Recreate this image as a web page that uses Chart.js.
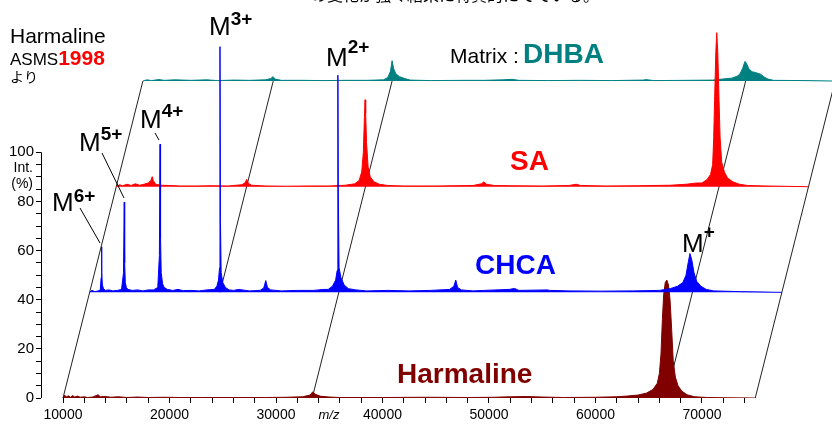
<!DOCTYPE html>
<html>
<head>
<meta charset="utf-8">
<script src="https://cdn.jsdelivr.net/npm/chart.js@4/dist/chart.umd.min.js"></script>
<style>
  body { margin: 0; background: #fff; }
  #wrap { width: 832px; height: 424px; }
</style>
</head>
<body>
<div id="wrap"><canvas id="spectraChart" width="832" height="424"></canvas></div>
<script>
// スペクトルデータ (m/z, 相対強度 %)
const harmalineMz = [10000, 10150, 10300, 10500, 10700, 10900, 11100, 11400, 11600, 12000, 12300, 12800, 13300, 13500, 14000, 14500, 15200, 16000, 17000, 18000, 19500, 21000, 23000, 26000, 29000, 31000, 32500, 33200, 33450, 33700, 34200, 35000, 36000, 40000, 44000, 48000, 50500, 52000, 53500, 55000, 57000, 60000, 62000, 63000, 64000, 64800, 65400, 65800, 66000, 66150, 66280, 66400, 66550, 66700, 66850, 67000, 67150, 67300, 67500, 67750, 68100, 68600, 69300, 70500, 72000, 75000];
const harmalineInt = [0, 1.2, 0.4, 0.9, 0.3, 1.0, 0.4, 0.8, 0.3, 0.5, 0.2, 0.4, 1.3, 0.5, 0.6, 0.3, 0.5, 0.2, 0.4, 0.2, 0.3, 0.2, 0.2, 0.2, 0.2, 0.3, 0.5, 1.2, 2.5, 1.5, 0.7, 0.4, 0.2, 0.2, 0.3, 0.2, 0.3, 0.5, 0.6, 0.4, 0.2, 0.3, 0.5, 0.8, 1.2, 2, 3.5, 6, 10, 18, 32, 42, 47, 48, 46, 40, 28, 15, 8.5, 5, 2.8, 1.3, 0.5, 0.2, 0.1, 0];

const chcaMz = [10000, 10200, 10500, 10800, 11000, 11080, 11120, 11150, 11200, 11300, 11500, 11800, 12200, 12600, 13000, 13180, 13250, 13290, 13350, 13450, 13600, 14000, 14500, 15000, 15500, 16000, 16400, 16550, 16610, 16660, 16720, 16850, 17000, 17300, 17800, 18300, 18800, 19500, 20300, 21000, 21700, 21950, 22100, 22200, 22240, 22280, 22350, 22500, 22750, 23100, 23500, 24000, 25000, 26000, 26350, 26540, 26700, 27000, 28000, 29500, 31000, 32000, 32400, 32800, 33100, 33250, 33300, 33320, 33350, 33420, 33600, 33900, 34300, 35000, 36000, 38000, 40000, 42000, 43800, 44200, 44380, 44550, 44900, 46000, 47000, 49400, 49900, 50300, 53000, 53200, 55000, 58000, 61000, 63500, 64500, 65200, 65700, 66000, 66200, 66370, 66550, 66750, 67000, 67400, 67900, 68600, 71000, 75000];
const chcaInt = [0, 0.8, 0.3, 0.6, 1.0, 6, 18.6, 8, 3, 1.5, 0.8, 1.0, 0.6, 0.8, 1.2, 8, 36.7, 12, 4, 2, 1.2, 0.8, 1.0, 0.6, 1.0, 1.0, 2, 15, 60.3, 22, 8, 3.5, 2, 1.2, 0.8, 1.2, 0.7, 0.8, 0.6, 1, 1.2, 2.5, 5, 10, 100, 30, 8, 4, 2, 1, 0.8, 1.2, 0.6, 0.8, 1.8, 4.8, 2, 1, 0.6, 0.8, 0.8, 1.2, 1.2, 2.5, 5, 9, 30, 88.4, 40, 10, 6, 3, 1.5, 1, 0.6, 0.8, 0.6, 0.8, 1.2, 2.5, 5, 2, 1, 0.6, 0.8, 1.2, 1.6, 0.8, 1, 0.8, 0.6, 0.5, 0.6, 0.8, 1.5, 2.5, 4, 7, 12, 15.8, 13, 8, 4.5, 2.5, 1.2, 0.6, 0.3, 0];

const saMz = [10000, 10300, 10600, 11000, 11400, 11800, 12200, 12600, 13000, 13250, 13380, 13480, 13700, 14200, 15000, 16000, 17500, 19000, 20500, 21800, 22100, 22250, 22400, 22700, 24000, 26000, 28000, 30000, 31500, 32400, 32800, 33050, 33200, 33300, 33360, 33420, 33500, 33650, 33850, 34200, 34700, 35500, 37000, 40000, 43500, 44300, 44530, 44750, 45500, 47000, 50000, 52500, 53200, 53600, 56000, 59000, 62000, 63500, 64500, 65000, 65500, 65800, 66000, 66100, 66180, 66300, 66385, 66480, 66600, 66700, 66850, 67100, 67400, 67900, 68500, 69300, 71000, 75000];
const saInt = [0, 0.8, 0.4, 1.0, 0.5, 1.2, 0.6, 1.0, 1.5, 2.5, 4.1, 2.5, 1.0, 0.6, 0.5, 0.3, 0.3, 0.4, 0.3, 0.8, 1.6, 3, 1.4, 0.6, 0.3, 0.2, 0.3, 0.3, 0.6, 1.2, 2.5, 6, 14, 28, 35.4, 30, 18, 8, 4, 2, 1, 0.5, 0.3, 0.3, 0.5, 1.2, 2, 1, 0.5, 0.4, 0.3, 0.5, 1, 0.5, 0.3, 0.4, 0.6, 1, 1.5, 1.5, 3, 5, 9, 20, 35, 55, 62.7, 55, 35, 20, 10, 6, 3.5, 2, 1, 0.5, 0.3, 0];

const dhbaMz = [10000, 10400, 10800, 11500, 12000, 13000, 14500, 16000, 17000, 18500, 20000, 21500, 22000, 22230, 22400, 23000, 25000, 27000, 29000, 31000, 32600, 33000, 33250, 33400, 33550, 33750, 34100, 34600, 35100, 37000, 40000, 42000, 43800, 44650, 45300, 48000, 51000, 54000, 57000, 57200, 58000, 61000, 63500, 64400, 65300, 65800, 66050, 66300, 66450, 66540, 66700, 66900, 67200, 67500, 68000, 68400, 68700, 69200, 72000, 75000];
const dhbaInt = [0, 0.5, 0.2, 0.6, 0.3, 0.5, 0.3, 0.5, 0.2, 0.4, 0.3, 0.5, 1, 1.8, 0.8, 0.3, 0.3, 0.2, 0.3, 0.3, 0.5, 1.5, 4, 8.3, 5, 3, 1.8, 1, 0.4, 0.2, 0.3, 0.3, 0.5, 0.7, 0.3, 0.2, 0.3, 0.2, 0.4, 0.6, 0.2, 0.3, 0.4, 0.8, 1.2, 2, 2.8, 5, 7, 8, 7, 5, 3.8, 3.5, 2.8, 1.5, 0.8, 0.3, 0.2, 0];

// 奥行き方向の線 (m/z)
const depthLineMz = [10000, 33400, 66600, 75000];
const m3LineMz = 22240;

// 目盛り
const xMajorTicks = [10000, 20000, 30000, 40000, 50000, 60000, 70000];
const yMajorTicks = [0, 20, 40, 60, 80, 100];

// 奥行きのずらし量 (1段あたり)
const DEPTH_MZ = 2500;
const DEPTH_INT = 43;

const FONT = "'Liberation Sans', Arial, sans-serif";

function shifted(mz, inten, level) {
    return mz.map((m, i) => ({ x: m + level * DEPTH_MZ, y: inten[i] + level * DEPTH_INT }));
}

function spectrum(label, mz, inten, level, color, order) {
    return {
        label: label,
        data: shifted(mz, inten, level),
        borderColor: color,
        backgroundColor: color,
        borderWidth: 1,
        pointRadius: 0,
        tension: 0,
        fill: { value: level * DEPTH_INT },
        order: order
    };
}

function depthLine(mz, fromLevel, toLevel) {
    return {
        data: [
            { x: mz + fromLevel * DEPTH_MZ, y: fromLevel * DEPTH_INT },
            { x: mz + toLevel * DEPTH_MZ, y: toLevel * DEPTH_INT }
        ],
        borderColor: '#222',
        borderWidth: 1,
        pointRadius: 0,
        fill: false,
        order: 10
    };
}

const xMinorTicks = [];
for (let v = 10000; v <= 74000; v += 2000) xMinorTicks.push(v);
const yMinorTicks = [];
for (let v = 0; v <= 100; v += 5) yMinorTicks.push(v);

// 文字・注釈
const labelPlugin = {
    id: 'labels',
    afterDraw(chart) {
        const ctx = chart.ctx;
        const y = chart.scales.y;
        ctx.save();
        // 縦軸の線 (0〜100)
        ctx.strokeStyle = '#000';
        ctx.lineWidth = 1;
        ctx.beginPath();
        ctx.moveTo(41.5, y.getPixelForValue(0));
        ctx.lineTo(41.5, y.getPixelForValue(100));
        ctx.stroke();

        ctx.fillStyle = '#000';
        ctx.textBaseline = 'alphabetic';
        ctx.textAlign = 'right';
        ctx.font = '14px ' + FONT;
        ctx.fillText('Int.', 33, 172);
        ctx.fillText('(%)', 33, 188);

        ctx.textAlign = 'center';
        ctx.font = 'italic 13px ' + FONT;
        ctx.fillText('m/z', 329, 419);

        // 上端で切れている本文
        ctx.font = '16px "Noto Sans CJK JP"';
        ctx.fillText('の変化が強く結果に特異的にでている。', 455, 1);

        ctx.textAlign = 'left';
        ctx.font = '21px ' + FONT;
        ctx.fillText('Harmaline', 10, 43);
        ctx.font = '17px ' + FONT;
        ctx.fillText('ASMS', 10, 65);
        const asmsW = ctx.measureText('ASMS').width;
        ctx.fillStyle = '#ff0000';
        ctx.font = 'bold 21px ' + FONT;
        ctx.fillText('1998', 10 + asmsW, 65);
        ctx.fillStyle = '#000';
        ctx.font = '14px "Noto Sans CJK JP"';
        ctx.fillText('より', 10, 82);

        // イオンのラベル
        const ions = [
            ['6+', 52, 211, 202],
            ['5+', 79, 151, 140],
            ['4+', 140, 128, 117],
            ['3+', 209, 35, 25],
            ['2+', 326, 66, 53],
            ['+', 682, 252, 238]
        ];
        ions.forEach(([sup, x, base, supBase]) => {
            ctx.font = '26px ' + FONT;
            ctx.fillText('M', x, base);
            const w = ctx.measureText('M').width;
            ctx.font = 'bold 19px ' + FONT;
            ctx.fillText(sup, x + w, supBase);
        });

        // 引き出し線
        ctx.beginPath();
        ctx.moveTo(80, 208); ctx.lineTo(100, 243);
        ctx.moveTo(102, 153); ctx.lineTo(124, 198);
        ctx.moveTo(155, 133); ctx.lineTo(159, 140);
        ctx.stroke();

        // マトリックス名
        ctx.font = '21px ' + FONT;
        ctx.fillText('Matrix :', 450, 63);
        ctx.font = 'bold 28px ' + FONT;
        ctx.fillStyle = '#008080';
        ctx.fillText('DHBA', 523, 63);
        ctx.fillStyle = '#ff0000';
        ctx.fillText('SA', 510, 170);
        ctx.fillStyle = '#0000ff';
        ctx.fillText('CHCA', 475, 274);
        ctx.fillStyle = '#800000';
        ctx.fillText('Harmaline', 397, 383);
        ctx.restore();
    }
};

const ctx = document.getElementById('spectraChart');
new Chart(ctx, {
    type: 'line',
    data: {
        datasets: [
            spectrum('CHCA', chcaMz, chcaInt, 1, '#0000ff', 1),
            spectrum('SA', saMz, saInt, 2, '#ff0000', 2),
            spectrum('DHBA', dhbaMz, dhbaInt, 3, '#008080', 3),
            spectrum('Harmaline', harmalineMz, harmalineInt, 0, '#800000', 4),
            depthLine(depthLineMz[0], 0, 3),
            depthLine(depthLineMz[1], 0, 3),
            depthLine(depthLineMz[2], 0, 3),
            depthLine(depthLineMz[3], 0, 3),
            depthLine(m3LineMz, 1, 3)
        ]
    },
    options: {
        responsive: false,
        animation: false,
        events: [],
        layout: { padding: 0 },
        plugins: {
            legend: { display: false },
            tooltip: { enabled: false }
        },
        scales: {
            x: {
                type: 'linear',
                min: 7934,
                max: 82207,
                afterBuildTicks: s => { s.ticks = xMinorTicks.map(v => ({ value: v })); },
                afterFit: s => { s.height = 26; s.paddingLeft = 0; s.paddingRight = 0; },
                ticks: {
                    autoSkip: false,
                    maxRotation: 0,
                    padding: 4,
                    color: '#000',
                    font: { family: FONT, size: 14 },
                    callback: v => xMajorTicks.includes(v) ? String(v) : ''
                },
                grid: { drawOnChartArea: false, drawTicks: true, tickLength: 5, color: '#000' },
                border: { display: false }
            },
            y: {
                min: 0,
                max: 162,
                afterBuildTicks: s => { s.ticks = yMinorTicks.map(v => ({ value: v })); },
                afterFit: s => { s.width = 41; s.paddingTop = 0; s.paddingBottom = 0; },
                ticks: {
                    autoSkip: false,
                    padding: 2,
                    color: '#000',
                    font: { family: FONT, size: 15 },
                    callback: v => yMajorTicks.includes(v) ? String(v) : ''
                },
                grid: { drawOnChartArea: false, drawTicks: true, tickLength: 5, color: '#000' },
                border: { display: false }
            }
        }
    },
    plugins: [labelPlugin]
});
</script>
</body>
</html>
